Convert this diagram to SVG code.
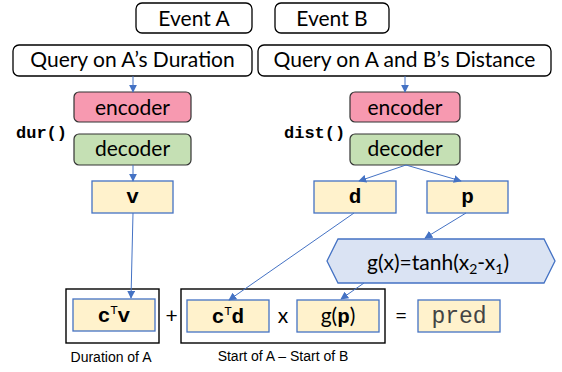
<svg xmlns="http://www.w3.org/2000/svg" width="562" height="372" viewBox="0 0 562 372">
<style>
.rb{fill:#fff;stroke:#000;stroke-width:1.3}
.enc{fill:#F799B0;stroke:#333;stroke-width:1.2}
.dec{fill:#C5E0B4;stroke:#333;stroke-width:1.2}
.yb{fill:#FFF2CC;stroke:#4472C4;stroke-width:1.3}
.ob{fill:none;stroke:#000;stroke-width:1.4}
.t{font-family:Lato,"Liberation Sans",sans-serif;font-size:21px;fill:#000;text-anchor:middle}
.m{font-family:"Liberation Mono",monospace;font-weight:bold;font-size:21px;fill:#000}
.lab{font-family:"Liberation Sans",Arial,sans-serif;font-size:14px;fill:#000;text-anchor:middle}
.fn{font-family:"Liberation Mono",monospace;font-weight:bold;font-size:17px;fill:#000}
.c{stroke:#4472C4;stroke-width:1;fill:none;marker-end:url(#ah)}
</style>
<defs>
<marker id="ah" viewBox="0 0 10 10" refX="9" refY="5" markerWidth="8" markerHeight="8" markerUnits="userSpaceOnUse" orient="auto">
<path d="M0,0 L10,5 L0,10 z" fill="#4472C4"/>
</marker>
</defs>
<g id="eventA"><rect class="rb" x="136" y="3" width="116" height="30" rx="6"/><text class="t" x="194" y="26">Event A</text></g>
<g id="eventB"><rect class="rb" x="275" y="3" width="114" height="30" rx="6"/><text class="t" x="332" y="26">Event B</text></g>
<g id="queryA"><rect class="rb" x="13" y="45" width="239" height="31" rx="6"/><text class="t" x="132.5" y="67">Query on A’s Duration</text></g>
<g id="queryB"><rect class="rb" x="258" y="45" width="293" height="31" rx="6"/><text class="t" x="404.5" y="67">Query on A and B’s Distance</text></g>
<g id="encA"><rect class="enc" x="74" y="92" width="117" height="30" rx="5"/><text class="t" x="132.5" y="115">encoder</text></g>
<g id="decA"><rect class="dec" x="74" y="134" width="117" height="31" rx="5"/><text class="t" x="132.5" y="156">decoder</text></g>
<g id="durLabel"><text class="fn" x="16" y="138">dur()</text></g>
<g id="encB"><rect class="enc" x="350" y="92" width="110" height="30" rx="5"/><text class="t" x="405" y="115">encoder</text></g>
<g id="decB"><rect class="dec" x="350" y="134" width="110" height="31" rx="5"/><text class="t" x="405" y="156">decoder</text></g>
<g id="distLabel"><text class="fn" x="284" y="138">dist()</text></g>
<g id="v"><rect class="yb" x="92" y="181" width="81" height="32"/><text class="m" x="132.5" y="203" text-anchor="middle">v</text></g>
<g id="d"><rect class="yb" x="314" y="181" width="82" height="32"/><text class="m" x="355" y="203" text-anchor="middle">d</text></g>
<g id="p"><rect class="yb" x="427" y="181" width="81" height="32"/><text class="m" x="467.5" y="203" text-anchor="middle">p</text></g>
<g id="gfunc"><polygon points="327,261 338,239 544,239 555,261 544,283 338,283" fill="#DAE3F3" stroke="#4472C4" stroke-width="1.3"/>
<text class="t" x="438" y="270">g(x)=tanh(x<tspan font-size="14" dy="4">2</tspan><tspan dy="-4">-x</tspan><tspan font-size="14" dy="4">1</tspan><tspan dy="-4">)</tspan></text></g>
<g id="termDur"><rect class="ob" x="66" y="289" width="93" height="54"/><rect class="yb" x="73" y="299" width="82" height="32"/>
<text x="114" y="322" text-anchor="middle"><tspan class="m">c</tspan><tspan font-family="Lato,sans-serif" font-size="12" dy="-8">T</tspan><tspan class="m" dy="8">v</tspan></text></g>
<g id="plus"><text class="t" x="171.5" y="323" font-size="24">+</text></g>
<g id="termDist"><rect class="ob" x="181" y="289" width="204" height="54"/>
<rect class="yb" x="187" y="300" width="82" height="32"/>
<text x="228" y="323" text-anchor="middle"><tspan class="m">c</tspan><tspan font-family="Lato,sans-serif" font-size="12" dy="-8">T</tspan><tspan class="m" dy="8">d</tspan></text>
<text class="t" x="283" y="323">x</text>
<rect class="yb" x="297" y="300" width="82" height="32"/>
<text class="t" x="338" y="323">g(<tspan class="m">p</tspan>)</text></g>
<g id="equals"><text class="t" x="401" y="323" font-size="24">=</text></g>
<g id="pred"><rect class="yb" x="418" y="300" width="82" height="32"/><text x="459" y="323" text-anchor="middle" font-family="Liberation Mono,monospace" font-size="23" fill="#444">pred</text></g>
<g id="labels"><text class="lab" x="111" y="362">Duration of A</text><text class="lab" x="283" y="361">Start of A – Start of B</text></g>
<g id="connectors">
<line class="c" x1="133" y1="76" x2="133" y2="92"/>
<line class="c" x1="405" y1="76" x2="405" y2="92"/>
<line class="c" x1="133" y1="165" x2="133" y2="181"/>
<line class="c" x1="406" y1="165" x2="359" y2="181"/>
<line class="c" x1="406" y1="165" x2="461" y2="181"/>
<line class="c" x1="133" y1="213" x2="131" y2="298"/>
<line class="c" x1="354" y1="213" x2="229" y2="300"/>
<line class="c" x1="466" y1="213" x2="425" y2="238"/>
<line class="c" x1="364" y1="283" x2="341" y2="299"/>
</g>
</svg>
